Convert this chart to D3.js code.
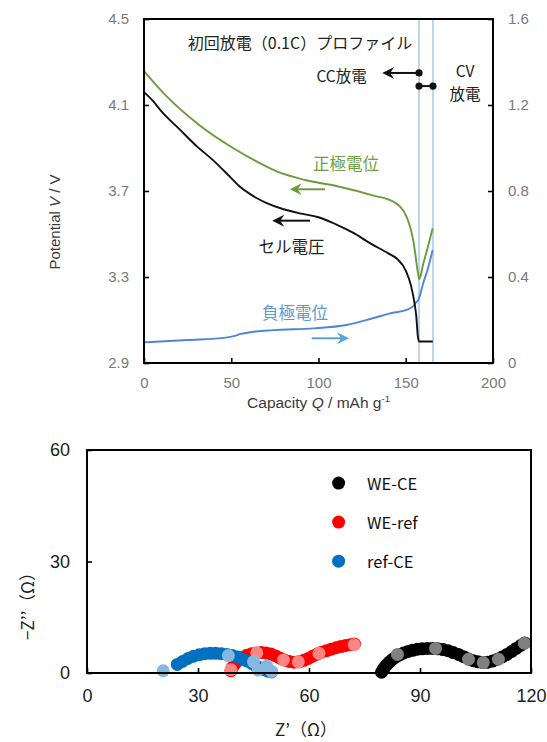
<!DOCTYPE html>
<html><head><meta charset="utf-8">
<script src="https://cdn.jsdelivr.net/npm/d3@7"></script>
<style>body{margin:0;background:#fff;} svg{display:block;}</style>
</head><body><svg id="c" width="547" height="742"></svg>
<script>
// ---------- Top chart data ----------
const capTicks = [0, 50, 100, 150, 200];
const vTicks = [2.9, 3.3, 3.7, 4.1, 4.5];
const negTicks = [0, 0.4, 0.8, 1.2, 1.6];

const capCell = [0,5,10,20,30,40,50,55,60,65,70,80,90,100,110,120,130,140,145,150,153,155,156,157,157.6,165.5];
const vCell   = [4.16,4.12,4.07,3.99,3.91,3.84,3.76,3.72,3.69,3.665,3.645,3.615,3.595,3.578,3.545,3.505,3.455,3.41,3.385,3.33,3.26,3.18,3.12,3.02,3.0,3.0];

const capPos = [0,13,32,51,70,78,93,112,131,143,150.5,154.3,157.2,157.7,160,163,165.4];
const vPos   = [4.258,4.14,4.005,3.90,3.815,3.785,3.75,3.72,3.68,3.65,3.58,3.47,3.31,3.29,3.36,3.45,3.527];

const capNeg = [0,25,47,52,55,60,74,97,116,131,141,150.5,154,156.3,157.2,160,163,165.4];
const vNeg   = [0.096,0.107,0.118,0.126,0.134,0.142,0.153,0.161,0.177,0.208,0.231,0.247,0.262,0.285,0.293,0.371,0.448,0.526];

const cvLines = [157.6, 165.6];

// ---------- Bottom chart data (Z', -Z'') ----------
const zTicksX = [0, 30, 60, 90, 120];
const zTicksY = [0, 30, 60];
const seriesNames = ["WE-CE", "WE-ref", "ref-CE"];

const weCE = [[79.6,0.2],[80.0,0.9],[80.5,1.6],[81.1,2.3],[81.8,3.0],[82.6,3.7],[83.5,4.3],[84.5,4.9],[85.6,5.4],[86.8,5.8],[88.0,6.1],[89.3,6.4],[90.6,6.5],[92.0,6.6],[93.4,6.6],[94.8,6.5],[96.2,6.3],[97.6,6.0],[99.0,5.5],[100.4,5.0],[101.8,4.4],[103.1,3.8],[104.4,3.3],[105.7,3.0],[107.0,2.8],[108.3,2.9],[109.6,3.2],[110.9,3.7],[112.2,4.3],[113.5,5.0],[114.8,5.8],[116.0,6.6],[117.2,7.4],[118.3,8.1]];
const weCELight = [[83.9,5.0],[94.2,6.6],[103.1,3.7],[107.1,2.8],[111.2,3.7],[118.2,8.0]];

const weRef = [[38.9,0.6],[39.3,1.5],[40.0,2.5],[40.9,3.4],[42.0,4.2],[43.2,4.8],[44.5,5.2],[45.8,5.4],[47.1,5.5],[48.4,5.4],[49.7,5.1],[51.0,4.6],[52.2,4.0],[53.4,3.5],[54.7,3.1],[56.0,2.9],[57.3,3.0],[58.6,3.4],[59.8,3.9],[61.0,4.5],[62.2,5.1],[63.4,5.6],[64.7,6.0],[66.0,6.4],[67.3,6.8],[68.6,7.1],[69.9,7.4],[71.2,7.6],[72.3,7.8]];
const weRefLight = [[38.9,0.9],[45.9,5.4],[53.1,3.5],[57.1,3.0],[62.7,5.3],[72.2,7.6]];

const refCE = [[24.4,2.3],[25.8,3.1],[27.3,3.9],[28.8,4.5],[30.3,4.9],[31.8,5.2],[33.3,5.3],[34.8,5.3],[36.3,5.2],[37.8,5.0],[39.3,4.7],[40.7,4.3],[42.0,3.8],[43.3,3.2],[44.5,2.6],[45.6,2.0],[46.7,1.4],[47.8,0.9],[48.9,0.5],[49.9,0.3]];
const refCELight = [[20.6,0.6],[38.2,4.7],[45.0,3.0],[46.3,0.8],[48.6,1.9],[49.9,0.4]];

// ---------- Drawing ----------
const svg = d3.select("#c");
const LAT = "'Liberation Sans', Arial, sans-serif";
const JP = "'Noto Sans CJK JP', sans-serif";

// Top chart scales
const x1 = d3.scaleLinear().domain([0, 200]).range([144, 493]);
const yL = d3.scaleLinear().domain([2.9, 4.5]).range([363, 19]);
const yR = d3.scaleLinear().domain([0, 1.6]).range([363, 19]);

// CV boundary lines
svg.append("g").selectAll("line").data(cvLines).join("line")
  .attr("x1", d => x1(d)).attr("x2", d => x1(d))
  .attr("y1", yL(4.5)).attr("y2", yL(2.9))
  .attr("stroke", "#a9cbeb").attr("stroke-width", 1.6);

function styleAxis(g, color, size) {
  g.select(".domain").remove();
  g.selectAll(".tick line").attr("stroke", "#000").attr("stroke-width", 1.6);
  g.selectAll(".tick text").attr("fill", color).style("font-family", LAT).style("font-size", size + "px");
}

svg.append("g").attr("transform", "translate(0,363)")
  .call(d3.axisBottom(x1).tickValues(capTicks).tickSize(-5).tickSizeOuter(0).tickPadding(14))
  .call(g => styleAxis(g, "#7a7a7a", 15));
svg.append("g").attr("transform", "translate(144,0)")
  .call(d3.axisLeft(yL).tickValues(vTicks).tickFormat(d3.format(".1f")).tickSize(-5).tickSizeOuter(0).tickPadding(15))
  .call(g => styleAxis(g, "#7a7a7a", 15));
svg.append("g").attr("transform", "translate(493,0)")
  .call(d3.axisRight(yR).tickValues(negTicks).tickFormat(d => d === 0 ? "0" : d3.format(".1f")(d)).tickSize(-5).tickSizeOuter(0).tickPadding(15))
  .call(g => styleAxis(g, "#7a7a7a", 15));

// curves
const lineL = d3.line().x(d => x1(d[0])).y(d => yL(d[1])).curve(d3.curveMonotoneX);
const lineR = d3.line().x(d => x1(d[0])).y(d => yR(d[1])).curve(d3.curveMonotoneX);
svg.append("path").datum(capNeg.map((c, i) => [c, vNeg[i]])).attr("d", lineR)
  .attr("fill", "none").attr("stroke", "#4f86d6").attr("stroke-width", 1.9);
svg.append("path").datum(capPos.map((c, i) => [c, vPos[i]])).attr("d", lineL)
  .attr("fill", "none").attr("stroke", "#6a9c3c").attr("stroke-width", 1.9);
svg.append("path").datum(capCell.map((c, i) => [c, vCell[i]])).attr("d", lineL)
  .attr("fill", "none").attr("stroke", "#111").attr("stroke-width", 1.9);

// frame
svg.append("rect").attr("x", x1(0)).attr("y", yL(4.5))
  .attr("width", x1(200) - x1(0)).attr("height", yL(2.9) - yL(4.5))
  .attr("fill", "none").attr("stroke", "#000").attr("stroke-width", 2);

// arrows
function arrow(x0, xTip, y, color) {
  const dir = xTip > x0 ? 1 : -1;
  svg.append("line").attr("x1", x0).attr("x2", xTip - dir * 6).attr("y1", y).attr("y2", y)
    .attr("stroke", color).attr("stroke-width", 2);
  svg.append("path")
    .attr("d", `M${xTip},${y} L${xTip - dir * 12},${y - 6} L${xTip - dir * 8},${y} L${xTip - dir * 12},${y + 6} Z`)
    .attr("fill", color);
}
arrow(x1(103.7), x1(83.5), yL(3.708), "#6a9c3c");
arrow(x1(95.1), x1(73.5), yL(3.562), "#111");
arrow(x1(96.1), x1(117.5), yR(0.115), "#5ba3e0");
arrow(x1(157.6), x1(136.5), yL(4.249), "#111");

// CC / CV markers
svg.append("line").attr("x1", x1(157.6)).attr("x2", x1(165.6)).attr("y1", yL(4.188)).attr("y2", yL(4.188))
  .attr("stroke", "#111").attr("stroke-width", 2);
[[157.6, 4.249], [157.6, 4.188], [165.6, 4.188]].forEach(p => {
  svg.append("circle").attr("cx", x1(p[0])).attr("cy", yL(p[1])).attr("r", 3.6).attr("fill", "#111");
});

// annotation texts
function txt(x, y, s, size, color, anchor) {
  return svg.append("text").attr("x", x).attr("y", y).attr("text-anchor", anchor || "middle")
    .attr("dominant-baseline", "central").style("font-family", JP).style("font-size", size + "px")
    .attr("fill", color).text(s);
}
txt(x1(89.4), yL(4.393), "初回放電（0.1C）プロファイル", 16, "#222");
txt(x1(113.2), yL(4.24), "CC放電", 15.5, "#222");
txt(x1(184), yL(4.263), "CV", 15.5, "#222");
txt(x1(184), yL(4.156), "放電", 15.5, "#222");
txt(x1(115.8), yL(3.83), "正極電位", 16.5, "#6fa143");
txt(x1(84.5), yL(3.444), "セル電圧", 16.5, "#222");
txt(x1(86.5), yL(3.139), "負極電位", 16.5, "#5b9bd5");

// axis titles (top)
const xt = svg.append("text").attr("x", x1(100)).attr("y", 408).attr("text-anchor", "middle")
  .style("font-family", LAT).style("font-size", "15.5px").attr("fill", "#3a3a3a");
xt.append("tspan").text("Capacity ");
xt.append("tspan").style("font-style", "italic").text("Q");
xt.append("tspan").text(" / mAh g");
xt.append("tspan").attr("dy", -6).style("font-size", "9.5px").text("-1");

const yt = svg.append("text").attr("transform", "translate(60,222) rotate(-90)").attr("text-anchor", "middle")
  .style("font-family", LAT).style("font-size", "15px").attr("fill", "#3a3a3a");
yt.append("tspan").text("Potential ");
yt.append("tspan").style("font-style", "italic").text("V");
yt.append("tspan").text(" / V");

// ---------- Bottom chart ----------
const x2 = d3.scaleLinear().domain([0, 120]).range([87, 531]);
const y2 = d3.scaleLinear().domain([0, 60]).range([673, 450]);

svg.append("g").attr("transform", "translate(0,673)")
  .call(d3.axisBottom(x2).tickValues(zTicksX).tickSize(-5).tickSizeOuter(0).tickPadding(16))
  .call(g => styleAxis(g, "#222", 18));
svg.append("g").attr("transform", "translate(87,0)")
  .call(d3.axisLeft(y2).tickValues(zTicksY).tickSize(-5).tickSizeOuter(0).tickPadding(17))
  .call(g => styleAxis(g, "#222", 18));

const R = 6.5;
const groups = [
  { dense: weCE, light: weCELight, c: "#000000", lc: "#808080" },
  { dense: weRef, light: weRefLight, c: "#ff0000", lc: "#ff8585" },
  { dense: refCE, light: refCELight, c: "#0070c0", lc: "#86b8e2" }
];
groups.forEach(g => {
  svg.append("g").selectAll("circle").data(g.dense).join("circle")
    .attr("cx", d => x2(d[0])).attr("cy", d => y2(d[1])).attr("r", R).attr("fill", g.c);
  svg.append("g").selectAll("circle").data(g.light).join("circle")
    .attr("cx", d => x2(d[0])).attr("cy", d => y2(d[1])).attr("r", R).attr("fill", g.lc);
});

svg.append("rect").attr("x", x2(0)).attr("y", y2(60))
  .attr("width", x2(120) - x2(0)).attr("height", y2(0) - y2(60))
  .attr("fill", "none").attr("stroke", "#000").attr("stroke-width", 2);

// legend
const legY = [51.1, 40.6, 30.1];
seriesNames.forEach((n, i) => {
  svg.append("circle").attr("cx", x2(68.0)).attr("cy", y2(legY[i])).attr("r", R).attr("fill", groups[i].c);
  svg.append("text").attr("x", x2(75.7)).attr("y", y2(legY[i])).attr("dominant-baseline", "central")
    .style("font-family", JP).style("font-size", "16.5px").attr("fill", "#111").text(n);
});

// axis titles (bottom)
svg.append("text").attr("x", 306).attr("y", 728).attr("text-anchor", "middle").attr("dominant-baseline", "central")
  .style("font-family", JP).style("font-size", "17px").attr("fill", "#222").text("Z’（Ω）");
svg.append("text").attr("transform", "translate(26,602) rotate(-90)").attr("text-anchor", "middle")
  .attr("dominant-baseline", "central")
  .style("font-family", JP).style("font-size", "17px").attr("fill", "#222").text("−Z’’（Ω）");
</script>
</body></html>
